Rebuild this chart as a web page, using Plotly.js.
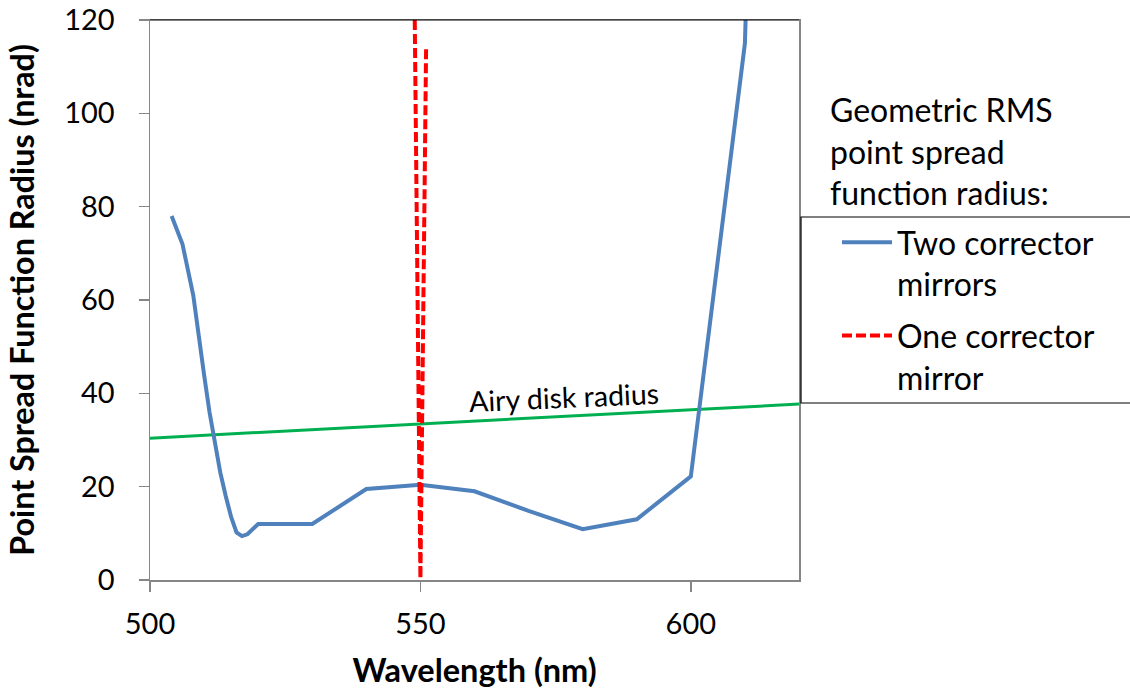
<!DOCTYPE html>
<html><head><meta charset="utf-8">
<script src="https://cdn.plot.ly/plotly-3.0.1.min.js"></script>
<style>html,body{margin:0;padding:0;background:#fff}#chart{width:1130px;height:690px}</style>
</head><body><div id="chart"></div>
<script>
// Two corrector mirrors (wavelength nm, PSF radius nrad)
const twoMirrorWavelength = [504, 506, 508, 509, 510, 511, 512, 513, 514, 515, 516, 517, 518, 520, 530, 540, 550, 560, 570, 580, 590, 600, 610, 610.5];
const twoMirrorRadius     = [78, 72, 61, 52, 44, 36, 29, 23, 18, 13.5, 10.2, 9.4, 9.8, 12, 12, 19.5, 20.4, 19, 14.8, 10.9, 13, 22.2, 115, 135];
// One corrector mirror
const oneMirrorWavelength = [548.9, 550, 551.05];
const oneMirrorRadius     = [126, 0.3, 114];
// Airy disk radius
const airyWavelength = [500, 620];
const airyRadius     = [30.4, 37.7];

const xTicks = [500, 550, 600];
const yTicks = [0, 20, 40, 60, 80, 100, 120];

const FONT = 'Lato, "Open Sans", sans-serif';

const traces = [
  {x: airyWavelength, y: airyRadius, mode: 'lines', name: 'Airy disk radius', showlegend: false,
   line: {color: '#00B050', width: 3}},
  {x: twoMirrorWavelength, y: twoMirrorRadius, mode: 'lines', name: 'Two corrector<br>mirrors',
   legendgroup: 'two', line: {color: '#4F81BD', width: 4}},
  {x: oneMirrorWavelength, y: oneMirrorRadius, mode: 'lines', name: 'One corrector<br>mirror',
   legendgroup: 'one', line: {color: '#FF0000', width: 4, dash: '10px,4px'}}
];

const L = 150, R = 799, T = 20, B = 580;
const px2x = p => (p - L) / (R - L);
const px2y = p => (B - p) / (B - T);

const layout = {
  width: 1130, height: 690,
  margin: {l: L, r: 1130 - R, t: T, b: 690 - B, pad: 0},
  paper_bgcolor: '#fff', plot_bgcolor: '#fff',
  font: {family: FONT, size: 29, color: '#000'},
  showlegend: true,
  xaxis: {
    range: [500, 620], tickvals: xTicks, ticktext: xTicks.map(String),
    showgrid: false, zeroline: false, showline: true, mirror: true,
    linecolor: '#868686', linewidth: 1.5, ticks: 'outside', ticklen: 10, tickcolor: '#868686', tickwidth: 1.5,
    ticklabelstandoff: 8,
    tickfont: {family: FONT, size: 29, color: '#000'},
    title: {text: 'Wavelength (nm)', font: {family: FONT, size: 32.5, color: '#000', weight: 'bold'}, standoff: 20}
  },
  yaxis: {
    range: [0, 120], tickvals: yTicks, ticktext: yTicks.map(String),
    showgrid: false, zeroline: false, showline: true, mirror: true,
    linecolor: '#868686', linewidth: 1.5, ticks: 'outside', ticklen: 10, tickcolor: '#868686', tickwidth: 1.5,
    ticklabelstandoff: 18,
    tickfont: {family: FONT, size: 29, color: '#000'},
    title: {text: 'Point Spread Function Radius (nrad)', font: {family: FONT, size: 32.3, color: '#000', weight: 'bold'}, standoff: 20}
  },
  legend: {
    x: px2x(837), y: px2y(215), xanchor: 'left', yanchor: 'top',
    bgcolor: 'rgba(0,0,0,0)', borderwidth: 0, valign: 'top',
    font: {family: FONT, size: 32, color: '#000'},
    itemwidth: 50, tracegroupgap: 7
  },
  shapes: [
    {type: 'line', xref: 'paper', yref: 'paper', x0: 0, x1: 1, y0: 1, y1: 1, line: {color: '#000', width: 1}},
    {type: 'rect', xref: 'paper', yref: 'paper', x0: px2x(801), x1: px2x(1140), y0: px2y(217), y1: px2y(403),
     line: {color: '#000', width: 1.2}, fillcolor: 'rgba(0,0,0,0)'}
  ],
  annotations: [
    {xref: 'paper', yref: 'paper', x: px2x(828), y: px2y(88), xanchor: 'left', yanchor: 'top', align: 'left',
     showarrow: false, text: 'Geometric RMS<br>point spread<br>function radius:',
     font: {family: FONT, size: 32, color: '#000'}},
    {xref: 'x', yref: 'y', x: 576.5, y: 39.2, showarrow: false, text: 'Airy disk radius', textangle: -2.5,
     font: {family: FONT, size: 28.5, color: '#000'}}
  ]
};

Plotly.newPlot('chart', traces, layout, {displayModeBar: false, staticPlot: true});
</script></body></html>
